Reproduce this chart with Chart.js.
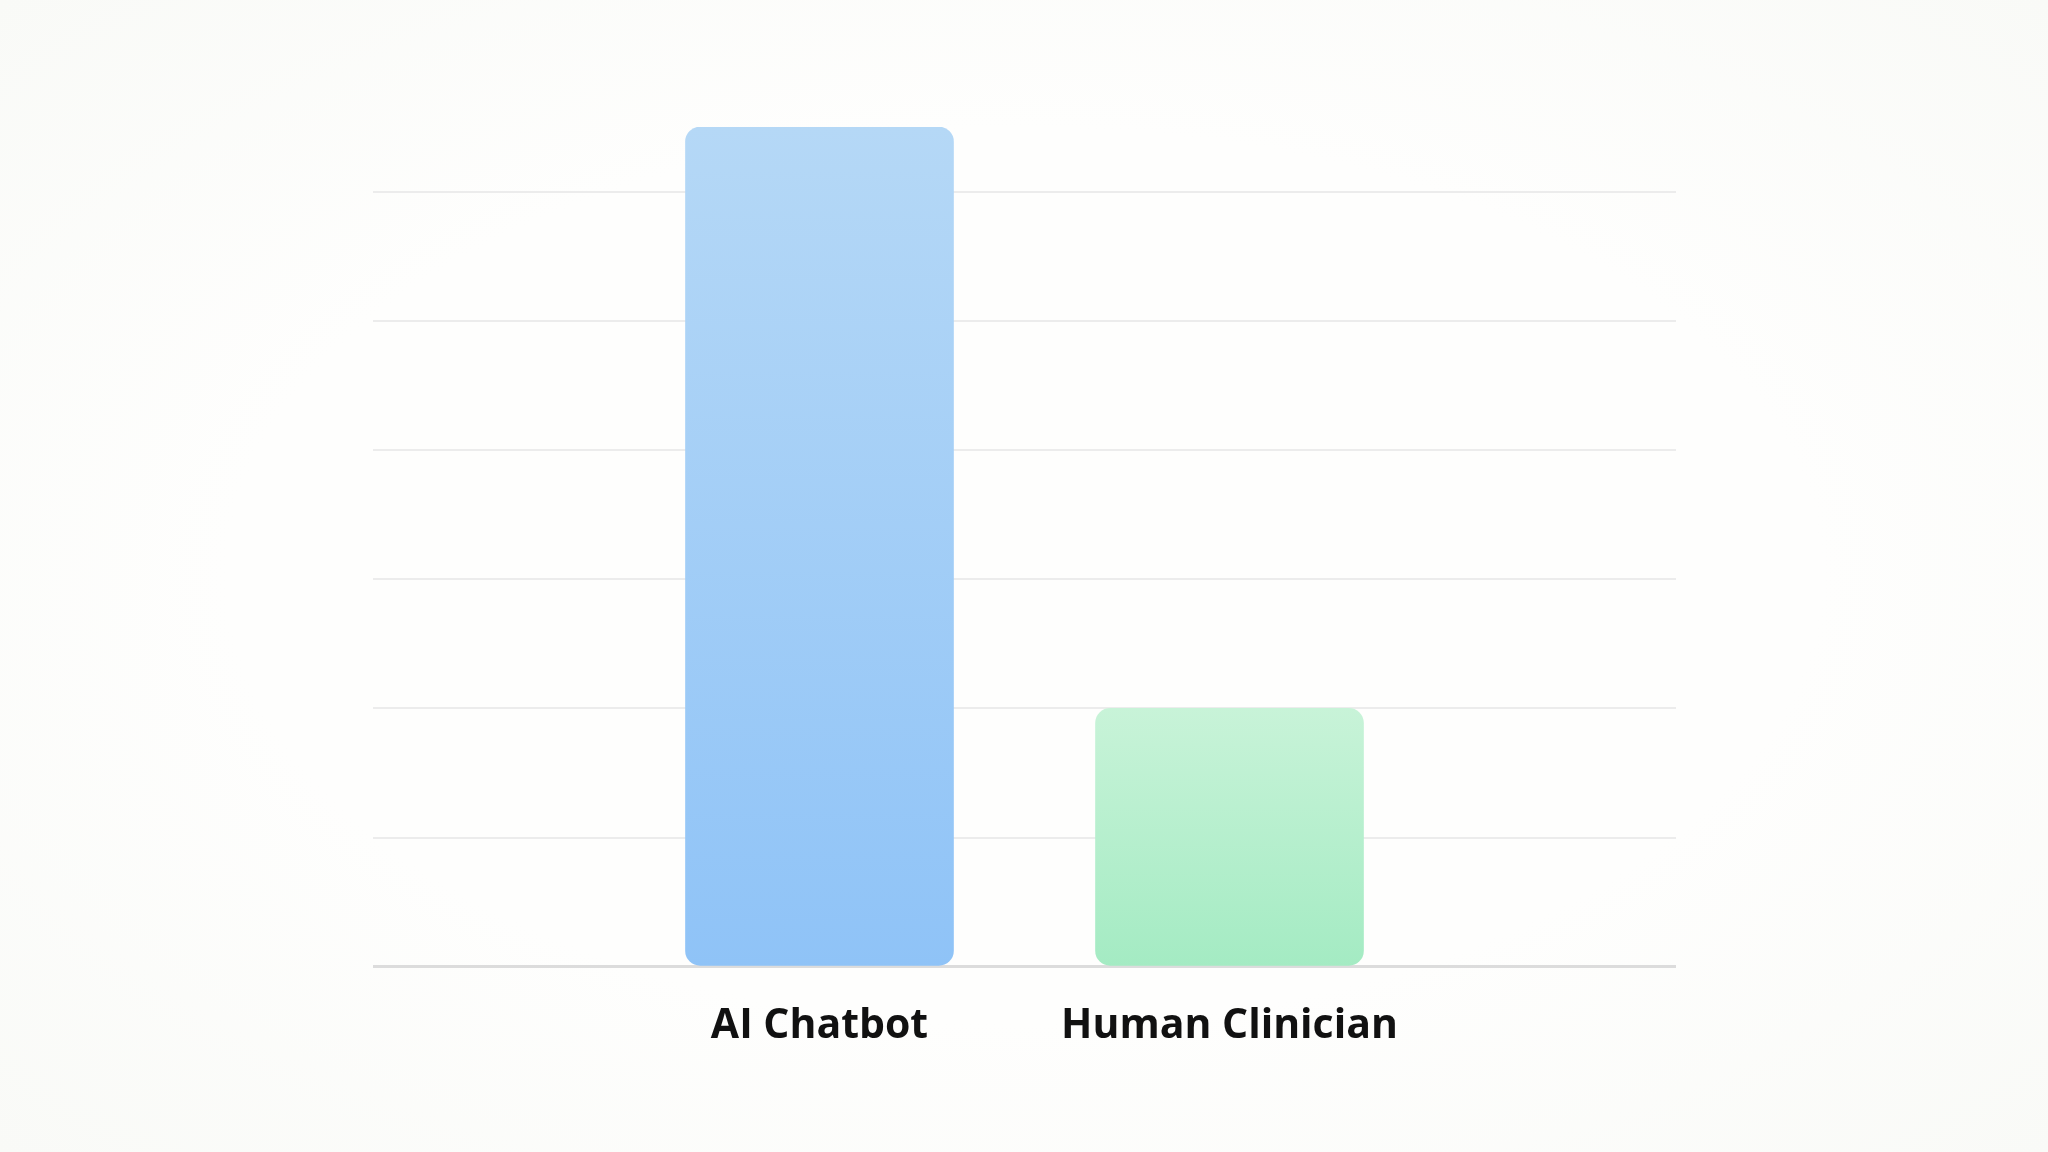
<!DOCTYPE html>
<html>
<head>
<meta charset="utf-8">
<script src="https://cdn.jsdelivr.net/npm/chart.js@4/dist/chart.umd.min.js"></script>
<style>
    html, body {
        margin: 0;
        padding: 0;
        background: #fcfcfa;
    }
    #wrap {
        width: 2048px;
        height: 1152px;
        background: radial-gradient(ellipse at center, #fefefd 55%, #f9faf7 100%);
    }
</style>
</head>
<body>
<div id="wrap"><canvas id="chart" width="2048" height="1152"></canvas></div>
<script>
const categories = ['AI Chatbot', 'Human Clinician'];
const positions = [0, 1];
const values = [6.5, 2];
const gridTicks = [0, 1, 2, 3, 4, 5, 6];

const topColors = ['#b5d8f6', '#c8f3d8'];
const bottomColors = ['#8fc3f7', '#a4ebc3'];

function barGradient(context) {
    const chart = context.chart;
    const { ctx, chartArea, scales } = chart;
    if (!chartArea) {
        return bottomColors[context.dataIndex];
    }
    const i = context.dataIndex;
    const top = scales.y.getPixelForValue(values[i]);
    const bottom = scales.y.getPixelForValue(0);
    const gradient = ctx.createLinearGradient(0, top, 0, bottom);
    gradient.addColorStop(0, topColors[i]);
    gradient.addColorStop(1, bottomColors[i]);
    return gradient;
}

new Chart(document.getElementById('chart'), {
    type: 'bar',
    data: {
        datasets: [{
            data: positions.map((x, i) => ({ x, y: values[i] })),
            backgroundColor: barGradient,
            borderWidth: 0,
            borderRadius: 15,
            borderSkipped: false,
            barThickness: 268
        }]
    },
    options: {
        responsive: false,
        animation: false,
        devicePixelRatio: 1,
        layout: {
            padding: { left: 373, right: 372, top: 127, bottom: 74 }
        },
        plugins: {
            legend: { display: false },
            tooltip: { enabled: false }
        },
        scales: {
            x: {
                type: 'linear',
                offset: false,
                min: -1.089,
                max: 2.089,
                afterBuildTicks: (scale) => {
                    scale.ticks = positions.map((value) => ({ value }));
                },
                grid: { display: false },
                border: { display: false },
                ticks: {
                    padding: 27,
                    color: '#111111',
                    font: { family: '"Open Sans", "Noto Sans", sans-serif', size: 41, weight: '700' },
                    callback: (value) => categories[positions.indexOf(value)]
                }
            },
            y: {
                min: 0,
                max: 6.5,
                afterBuildTicks: (scale) => {
                    scale.ticks = gridTicks.map((value) => ({ value }));
                },
                border: { display: false },
                grid: {
                    drawTicks: false,
                    color: (ctx) => ctx.tick && ctx.tick.value === 0 ? '#dcdcdc' : '#ececec',
                    lineWidth: (ctx) => ctx.tick && ctx.tick.value === 0 ? 3 : 2
                },
                ticks: { display: false }
            }
        }
    }
});
</script>
</body>
</html>
